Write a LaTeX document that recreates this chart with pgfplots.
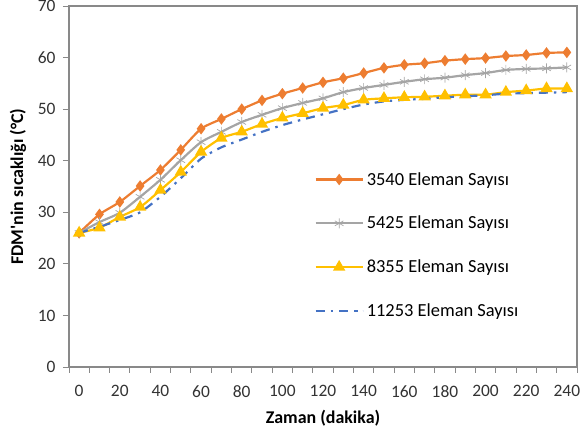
\documentclass[border=0pt]{standalone}
\usepackage{pgfplots}
\pgfplotsset{compat=1.18}
\usepackage{fontspec}
\setmainfont{Carlito}
\definecolor{c1}{HTML}{ED7D31}
\definecolor{c2}{HTML}{A5A5A5}
\definecolor{c3}{HTML}{FFC000}
\definecolor{c4}{HTML}{4472C4}
\definecolor{axgray}{HTML}{898989}
\begin{document}
\begin{tikzpicture}
\begin{axis}[
    at={(0,0)}, anchor=south west,
    width=508bp, height=361bp, scale only axis,
    xmin=-5, xmax=245, ymin=0, ymax=70,
    xtick={0,20,...,240}, minor xtick={-5,5,...,245},
    ytick={0,10,...,70},
    major x tick style={draw=none},
    tick align=outside, tick pos=left,
    minor tick length=5.5bp, major tick length=6bp,
    axis line style={axgray, line width=1.4pt},
    every tick/.style={axgray, line width=1pt},
    tick label style={font=\fontsize{17.5}{19}\selectfont, text=black!80},
    xticklabel style={yshift=-9bp},
    yticklabel style={xshift=-4bp},
    /pgf/number format/assume math mode=true,
    xlabel={\textbf{Zaman (dakika)}}, ylabel={\textbf{FDM\textquotesingle nin sıcaklığı (°C)}},
    label style={font=\fontsize{18}{20}\selectfont},
    xlabel style={at={(0.5,-0.1413)}, anchor=center},
    ylabel style={at={(-0.1004,0.5)}, anchor=center},
    legend style={draw=none, fill=none, at={(0.483,0.548)}, anchor=north west,
        inner sep=0pt, font=\fontsize{18.5}{20}\selectfont, row sep=23.5bp,
        cells={anchor=west}, nodes={inner sep=3bp}},
    legend cell align=left,
    legend image code/.code={\draw[mark repeat=2,mark phase=2,#1] plot coordinates {(0bp,0bp) (23.5bp,0bp) (47bp,0bp)};},
    every axis plot/.append style={line width=2.2pt, smooth, tension=0.4},
]
\addplot[c1, mark=diamond*, mark size=4pt, mark options={solid}] coordinates {
(0,26) (10,29.6) (20,32) (30,35.1) (40,38.2) (50,42.1) (60,46.2) (70,48.1) (80,50) (90,51.7)
(100,53) (110,54.1) (120,55.2) (130,56) (140,57) (150,58) (160,58.6) (170,58.9) (180,59.4)
(190,59.7) (200,59.9) (210,60.3) (220,60.5) (230,60.9) (240,61)};
\addlegendentry{3540 Eleman Sayısı}
\addplot[c2, mark=asterisk, mark size=5pt, mark options={solid, line width=0.7pt}] coordinates {
(0,26) (10,28.1) (20,29.9) (30,33) (40,36.3) (50,40.1) (60,43.6) (70,45.6) (80,47.5) (90,48.9)
(100,50.2) (110,51.2) (120,52.1) (130,53.3) (140,54.1) (150,54.7) (160,55.3) (170,55.8) (180,56.1)
(190,56.6) (200,57) (210,57.6) (220,57.8) (230,57.9) (240,58.1)};
\addlegendentry{5425 Eleman Sayısı}
\addplot[c3, mark=triangle*, mark size=5pt, mark options={solid}] coordinates {
(0,26) (10,27) (20,29.1) (30,31) (40,34.3) (50,37.8) (60,41.7) (70,44.4) (80,45.6) (90,47.1)
(100,48.3) (110,49.2) (120,50.2) (130,50.8) (140,51.8) (150,52.1) (160,52.3) (170,52.4) (180,52.6)
(190,52.8) (200,52.8) (210,53.3) (220,53.6) (230,54) (240,54)};
\addlegendentry{8355 Eleman Sayısı}
\addplot[c4, dash pattern=on 9bp off 6bp on 2.5bp off 6bp] coordinates {
(0,26) (10,27.2) (20,28.5) (30,30) (40,33) (50,36.6) (60,40.4) (70,42.6) (80,44.1) (90,45.6)
(100,46.9) (110,48) (120,49) (130,50) (140,50.9) (150,51.5) (160,51.8) (170,52) (180,52.3)
(190,52.5) (200,52.7) (210,53) (220,53.1) (230,53.2) (240,53.3)};
\addlegendentry{11253 Eleman Sayısı}
\end{axis}
\pgfresetboundingbox
\path (-69bp,-65bp) rectangle (512bp,367bp);
\end{tikzpicture}
\end{document}
